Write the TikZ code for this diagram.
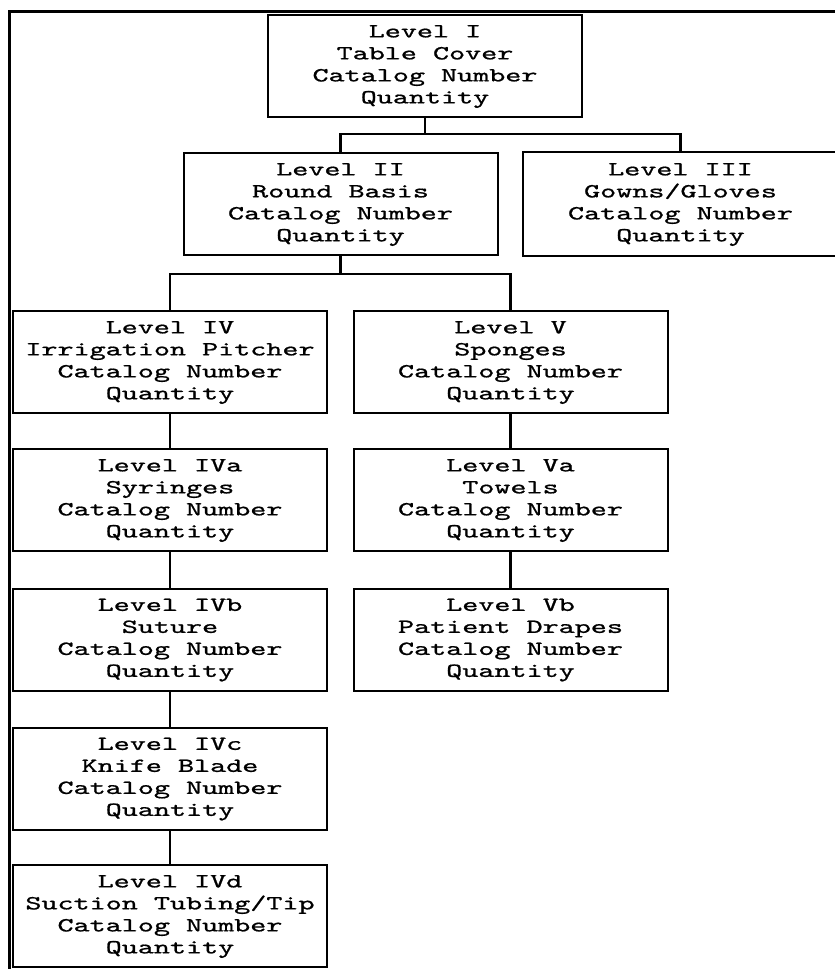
\documentclass[tikz,border=0pt]{standalone}
\usepackage{graphicx}
\usepackage{fontspec}
% typewriter face for the box labels, slightly emboldened
\newfontfamily\boxfont{lmmono10-regular.otf}[FakeBold=0.8]
% four-line label of one level: name, item, catalog number, quantity
\newcommand\levelbox[4]{\scalebox{1.53}[1]{\begin{tabular}{@{}c@{}}#1\\#2\\#3\\#4\end{tabular}}}
\begin{document}
\begin{tikzpicture}[x=1pt,y=-1pt,
  boxline/.style={draw, line width=2pt},
  lvlbox/.style={boxline, rectangle, minimum width=314pt,
    minimum height=102pt, inner sep=0pt,
    font=\fontsize{20}{22}\selectfont\boxfont},
  link/.style={line width=2.2pt},
  outerframe/.style={line width=2.6pt}]
\useasboundingbox (0,0) rectangle (835,969);
\clip (0,0) rectangle (835,969);

% outer frame (top and left sides)
\draw[outerframe] (845,11.7) -- (9.3,11.7) -- (9.3,980);

% level boxes
\node[lvlbox] (L1)  at (425,66)      {\levelbox{Level I}{Table Cover}{Catalog Number}{Quantity}};
\node[lvlbox] (L2)  at (340.5,204)   {\levelbox{Level II}{Round Basis}{Catalog Number}{Quantity}};
\node[lvlbox, draw=none] (L3) at (680.5,204) {\levelbox{Level III}{Gowns/Gloves}{Catalog Number}{Quantity}};
% the Level III box runs off the right edge of the sheet
\draw[boxline] (L3.north west) rectangle ([xshift=30pt]L3.south east);
\node[lvlbox] (L4)  at (170,362)     {\levelbox{Level IV}{Irrigation Pitcher}{Catalog Number}{Quantity}};
\node[lvlbox] (L5)  at (510.5,362)   {\levelbox{Level V}{Sponges}{Catalog Number}{Quantity}};
\node[lvlbox] (L4a) at (170,500)     {\levelbox{Level IVa}{Syringes}{Catalog Number}{Quantity}};
\node[lvlbox] (L5a) at (510.5,500)   {\levelbox{Level Va}{Towels}{Catalog Number}{Quantity}};
\node[lvlbox] (L4b) at (170,639.5)   {\levelbox{Level IVb}{Suture}{Catalog Number}{Quantity}};
\node[lvlbox] (L5b) at (510.5,639.5) {\levelbox{Level Vb}{Patient Drapes}{Catalog Number}{Quantity}};
\node[lvlbox] (L4c) at (170,778.5)   {\levelbox{Level IVc}{Knife Blade}{Catalog Number}{Quantity}};
\node[lvlbox] (L4d) at (170,916)     {\levelbox{Level IVd}{Suction Tubing/Tip}{Catalog Number}{Quantity}};

% junction points of the branching connectors
\coordinate (j1) at (425,134);
\coordinate (j2) at (340.5,274);

% connectors
\draw[link] (L1.south) -- (j1);
\draw[link] (L2.north) |- (j1) -| (L3.north);
\draw[link] (L2.south) -- (j2);
\draw[link] (L4.north) |- (j2) -| (L5.north);
\draw[link] (L4.south) -- (L4a.north);
\draw[link] (L4a.south) -- (L4b.north);
\draw[link] (L4b.south) -- (L4c.north);
\draw[link] (L4c.south) -- (L4d.north);
\draw[link] (L5.south) -- (L5a.north);
\draw[link] (L5a.south) -- (L5b.north);
\end{tikzpicture}
\end{document}
